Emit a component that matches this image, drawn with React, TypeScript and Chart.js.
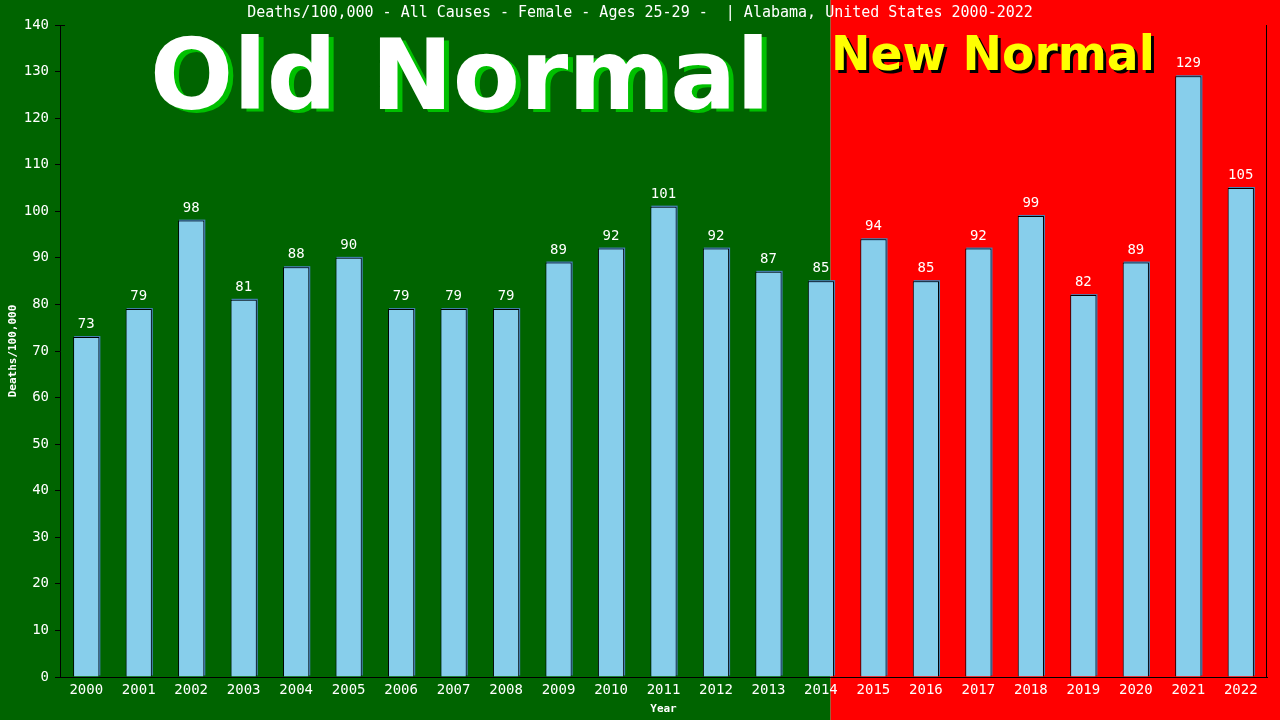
import React, { useEffect, useRef } from "react";
import { Chart, registerables } from "chart.js";

Chart.register(...registerables);

const years = ["2000","2001","2002","2003","2004","2005","2006","2007","2008","2009","2010","2011","2012","2013","2014","2015","2016","2017","2018","2019","2020","2021","2022"];
const deathsPer100k = [73,79,98,81,88,90,79,79,79,89,92,101,92,87,85,94,85,92,99,82,89,129,105];
const yTickMax = 140;
const yTickStep = 10;
const titleText = "Deaths/100,000 - All Causes - Female - Ages 25-29 -  | Alabama, United States 2000-2022";
const yAxisTitle = "Deaths/100,000";
const xAxisTitle = "Year";
const oldLabel = "Old Normal";
const newLabel = "New Normal";

const MONO = "'DejaVu Sans Mono', monospace";
const SANS_BOLD = "'DejaVu Sans', sans-serif";

const decorPlugin = {
  id: "decor",
  beforeDraw(chart: any) {
    const { ctx, chartArea, width, height } = chart;
    const split = chartArea.left + ((830 - 60) / 1206) * (chartArea.right - chartArea.left);
    ctx.save();
    ctx.fillStyle = "#006400";
    ctx.fillRect(0, 0, split, height);
    ctx.fillStyle = "#FF0000";
    ctx.fillRect(split, 0, width - split, height);

    // Title
    ctx.fillStyle = "#FFFFFF";
    ctx.font = `15px ${MONO}`;
    ctx.textAlign = "center";
    ctx.textBaseline = "middle";
    ctx.fillText(titleText, width / 2, 13);

    // Old Normal
    ctx.textAlign = "left";
    ctx.textBaseline = "alphabetic";
    let size = 100;
    ctx.font = `bold ${size}px ${SANS_BOLD}`;
    let w = ctx.measureText(oldLabel).width;
    size = size * 620 / w;
    ctx.font = `bold ${size}px ${SANS_BOLD}`;
    ctx.fillStyle = "#00C000";
    ctx.fillText(oldLabel, 150 + 5, 109 + 3);
    ctx.fillStyle = "#FFFFFF";
    ctx.fillText(oldLabel, 150, 109);

    // New Normal
    size = 50;
    ctx.font = `bold ${size}px ${SANS_BOLD}`;
    w = ctx.measureText(newLabel).width;
    size = size * 324 / w;
    ctx.font = `bold ${size}px ${SANS_BOLD}`;
    ctx.fillStyle = "#000000";
    ctx.fillText(newLabel, 831 + 3, 70 + 3);
    ctx.fillStyle = "#FFFF00";
    ctx.fillText(newLabel, 831, 70);
    ctx.restore();
  },
  beforeDatasetsDraw(chart: any) {
    const { ctx } = chart;
    const meta = chart.getDatasetMeta(0);
    ctx.save();
    ctx.fillStyle = "#4682B4";
    meta.data.forEach((bar: any) => {
      const p = bar.getProps(["x", "y", "base", "width"], true);
      ctx.fillRect(p.x - p.width / 2 + 1, p.y - 1, p.width, p.base - p.y);
    });
    ctx.restore();
  },
  afterDatasetsDraw(chart: any) {
    const { ctx } = chart;
    const meta = chart.getDatasetMeta(0);
    ctx.save();
    ctx.fillStyle = "#FFFFFF";
    ctx.font = `14px ${MONO}`;
    ctx.textAlign = "center";
    ctx.textBaseline = "alphabetic";
    meta.data.forEach((bar: any, i: number) => {
      const p = bar.getProps(["x", "y"], true);
      ctx.fillText(String(deathsPer100k[i]), p.x, p.y - 9);
    });
    ctx.restore();
  },
  afterDraw(chart: any) {
    const { ctx, chartArea } = chart;
    ctx.save();
    ctx.strokeStyle = "#000000";
    ctx.lineWidth = 1;
    ctx.beginPath();
    ctx.moveTo(Math.round(chartArea.right) - 0.5, chartArea.top);
    ctx.lineTo(Math.round(chartArea.right) - 0.5, chartArea.bottom);
    ctx.moveTo(chartArea.left, Math.round(chartArea.top) + 0.5);
    ctx.lineTo(chartArea.left + 5, Math.round(chartArea.top) + 0.5);
    ctx.stroke();

    ctx.fillStyle = "#FFFFFF";
    ctx.font = `bold 11px ${MONO}`;
    ctx.textAlign = "center";
    ctx.textBaseline = "middle";
    ctx.fillText(xAxisTitle, (chartArea.left + chartArea.right) / 2, 709);
    ctx.translate(13, (chartArea.top + chartArea.bottom) / 2);
    ctx.rotate(-Math.PI / 2);
    ctx.fillText(yAxisTitle, 0, 0);
    ctx.restore();
  },
};

export default function App() {
  const ref = useRef<HTMLCanvasElement | null>(null);
  useEffect(() => {
    document.body.style.margin = "0";
    const canvas = ref.current;
    if (!canvas) return;
    const chart = new Chart(canvas, {
      type: "bar",
      data: {
        labels: years,
        datasets: [
          {
            data: deathsPer100k,
            backgroundColor: "#87CEEB",
            borderColor: "#000000",
            borderWidth: 1,
            categoryPercentage: 1,
            barPercentage: 0.5,
          },
        ],
      },
      options: {
        responsive: false,
        animation: false,
        devicePixelRatio: 1,
        layout: { padding: { top: 25, right: 13, left: 0, bottom: 0 } },
        plugins: { legend: { display: false }, title: { display: false }, tooltip: { enabled: false } },
        scales: {
          x: {
            grid: { display: false, drawTicks: false },
            border: { display: true, color: "#000000", width: 1 },
            ticks: { color: "#FFFFFF", font: { family: MONO, size: 14 }, padding: 5, maxRotation: 0, autoSkip: false },
            afterFit(scale: any) { scale.height = 43; },
          },
          y: {
            min: 0,
            max: yTickMax,
            grid: { display: true, drawOnChartArea: false, drawTicks: true, tickLength: 5, color: "#000000" },
            border: { display: true, color: "#000000", width: 1 },
            ticks: { stepSize: yTickStep, color: "#FFFFFF", font: { family: MONO, size: 14 }, padding: 6 },
            afterFit(scale: any) { scale.width = 60; },
          },
        },
      },
      plugins: [decorPlugin],
    });
    return () => chart.destroy();
  }, []);
  return (
    <div style={{ position: "absolute", left: 0, top: 0, width: 1280, height: 720 }}>
      <canvas ref={ref} width={1280} height={720} />
    </div>
  );
}
